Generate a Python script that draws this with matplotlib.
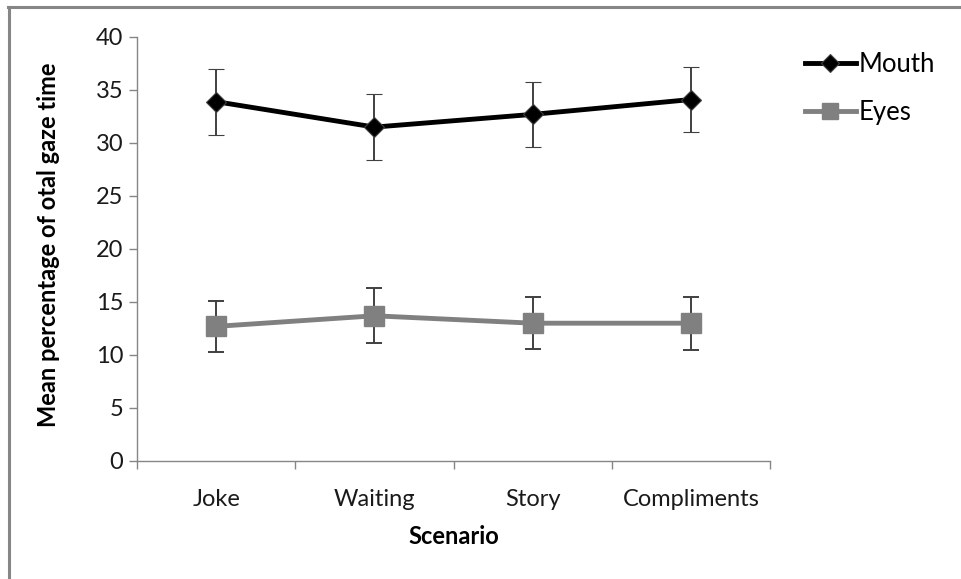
import matplotlib.pyplot as plt
from matplotlib.lines import Line2D

plt.rcParams['font.family'] = ['Lato', 'DejaVu Sans']

scenarios = ['Joke', 'Waiting', 'Story', 'Compliments']
mouth = [33.9, 31.5, 32.7, 34.1]
mouth_err = [3.1, 3.1, 3.05, 3.1]
eyes = [12.7, 13.7, 13.0, 13.0]
eyes_err = [2.4, 2.6, 2.45, 2.5]

AXIS_GREY = '#868686'
EYES_GREY = '#808080'

fig = plt.figure(figsize=(9.61, 5.79), dpi=100)
ax = fig.add_axes([0.1426, 0.2038, 0.6587, 0.7323])

x = list(range(len(scenarios)))
ax.errorbar(x, mouth, yerr=mouth_err, color='black', lw=3.5, marker='D', ms=10,
            mec='#404040', mew=0.8, ecolor='#404040', elinewidth=1.4, capsize=6,
            capthick=1.4, zorder=3)
ax.errorbar(x, eyes, yerr=eyes_err, color=EYES_GREY, lw=3.5, marker='s', ms=14,
            ecolor='#404040', elinewidth=1.4, capsize=6, capthick=1.4, zorder=3)

ax.set_xlim(-0.5, 3.5)
ax.set_ylim(0, 40)
ax.set_yticks(range(0, 41, 5))
ax.set_xticks(x)
ax.set_xticklabels(scenarios)
ax.set_xticks([-0.5, 0.5, 1.5, 2.5, 3.5], minor=True)
ax.tick_params(axis='x', which='major', length=0, pad=20, labelsize=17, colors='#1a1a1a')
ax.tick_params(axis='x', which='minor', length=6, width=1, color=AXIS_GREY)
ax.tick_params(axis='y', length=6, width=1, color=AXIS_GREY, labelsize=17,
               labelcolor='#1a1a1a', pad=4)

for side in ['top', 'right']:
    ax.spines[side].set_visible(False)
for side in ['left', 'bottom']:
    ax.spines[side].set_color(AXIS_GREY)
    ax.spines[side].set_linewidth(1)

ax.set_xlabel('Scenario', fontsize=17, fontweight='bold')
ax.set_ylabel('Mean percentage of otal gaze time', fontsize=17, fontweight='bold')
ax.xaxis.set_label_coords(0.5, -0.177)
ax.yaxis.set_label_coords(-0.1406, 0.509)
ax.xaxis.label.set_va('center')
ax.yaxis.label.set_va('center')

handles = [
    Line2D([], [], color='black', lw=3.5, marker='D', ms=9, mec='#404040', mew=0.8),
    Line2D([], [], color=EYES_GREY, lw=3.5, marker='s', ms=12),
]
fig.legend(handles, ['Mouth', 'Eyes'], loc='upper left', bbox_to_anchor=(0.8374, 0.911),
           frameon=False, fontsize=18.5, handlelength=2.0, handletextpad=0.1,
           labelspacing=0.9, borderpad=0, borderaxespad=0)

# chart area border (top and left edges)
fig.add_artist(Line2D([0.0095, 0.0095], [0, 0.988], transform=fig.transFigure,
                      color=AXIS_GREY, lw=2.2))
fig.add_artist(Line2D([0.0085, 1.0], [0.988, 0.988], transform=fig.transFigure,
                      color=AXIS_GREY, lw=2.2))

fig.savefig('out.png', dpi=100, facecolor='white')
